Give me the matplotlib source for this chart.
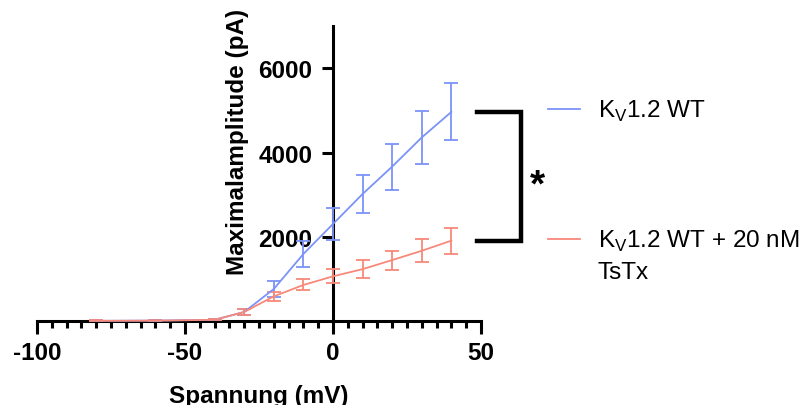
import matplotlib

matplotlib.use("Agg")
import matplotlib.pyplot as plt
from matplotlib.lines import Line2D
from matplotlib.ticker import MultipleLocator

plt.rcParams["font.family"] = ["Liberation Sans", "DejaVu Sans"]
plt.rcParams["axes.unicode_minus"] = False
plt.rcParams["mathtext.fontset"] = "custom"
plt.rcParams["mathtext.rm"] = "Liberation Sans"

# Strom-Spannungs-Kurven (Mittelwert ± SEM)
spannung = [-80, -60, -40, -30, -20, -10, 0, 10, 20, 30, 40]
wt_mittel = [15, 20, 40, 225, 770, 1600, 2310, 3020, 3670, 4360, 4965]
wt_sem = [10, 10, 15, 70, 190, 310, 385, 455, 545, 620, 675]
tstx_mittel = [15, 20, 40, 225, 595, 865, 1070, 1240, 1455, 1675, 1915]
tstx_sem = [10, 10, 15, 70, 115, 130, 170, 210, 225, 275, 305]

labels = ["K$_\\mathregular{V}$1.2 WT", "K$_\\mathregular{V}$1.2 WT + 20 nM\nTsTx"]
farbe_wt = "#7b93f7"
farbe_tstx = "#f7897a"

fig = plt.figure(figsize=(7.99, 4.06), dpi=100)
ax = fig.add_axes([0.0463, 0.2057, 0.5557, 0.7278])

ax.errorbar(spannung, wt_mittel, yerr=wt_sem, color=farbe_wt, lw=1.3,
            elinewidth=1.3, capsize=5, capthick=1.3, clip_on=False, zorder=3)
ax.errorbar(spannung, tstx_mittel, yerr=tstx_sem, color=farbe_tstx, lw=1.3,
            elinewidth=1.3, capsize=5, capthick=1.3, clip_on=False, zorder=3)

ax.set_xlim(-100, 50)
ax.set_ylim(0, 7000)

for seite in ["top", "right"]:
    ax.spines[seite].set_visible(False)
ax.spines["left"].set_position(("data", 0))
ax.spines["bottom"].set_position(("data", 0))
ax.spines["left"].set_linewidth(2.2)
ax.spines["bottom"].set_linewidth(2.2)

ax.set_xticks([-100, -50, 0, 50])
ax.xaxis.set_minor_locator(MultipleLocator(5))
ax.set_yticks([2000, 4000, 6000])
ax.tick_params(axis="x", which="major", direction="out", length=9, width=2.2,
               labelsize=17.5, pad=5)
ax.tick_params(axis="x", which="minor", direction="out", length=5, width=2.2)
ax.tick_params(axis="y", which="major", direction="out", length=8, width=2.2,
               labelsize=17.5, pad=7)
for lab in ax.get_xticklabels() + ax.get_yticklabels():
    lab.set_fontweight("bold")

ax.set_xlabel("Spannung (mV)", fontsize=17.5, fontweight="bold")
ax.xaxis.set_label_coords(0.5, -0.21)
ax.set_ylabel("Maximalamplitude (pA)", fontsize=17.5, fontweight="bold")
ax.yaxis.set_label_coords(0.477, 0.61)

# Signifikanzklammer zwischen den Werten bei +40 mV
kl_x0, kl_x1 = 48.5, 63.5
ax.plot([kl_x0, kl_x1, kl_x1, kl_x0],
        [wt_mittel[-1], wt_mittel[-1], tstx_mittel[-1], tstx_mittel[-1]],
        color="black", lw=3.2, clip_on=False, solid_joinstyle="miter")
ax.text(69, (wt_mittel[-1] + tstx_mittel[-1]) / 2 - 220, "*", fontsize=28,
        fontweight="bold", ha="center", va="center")

# Legende: kurze Linie + Text, auf Höhe der Klammerenden
for farbe, text, y in [(farbe_wt, labels[0], 406 - 110), (farbe_tstx, labels[1], 406 - 240)]:
    fig.add_artist(Line2D([548 / 799, 580 / 799], [y / 406, y / 406],
                          color=farbe, lw=1.3))
    fig.text(598 / 799, (y + 11) / 406, text, fontsize=17.5, ha="left", va="top",
             linespacing=1.45)

fig.savefig("out.png", dpi=100)
